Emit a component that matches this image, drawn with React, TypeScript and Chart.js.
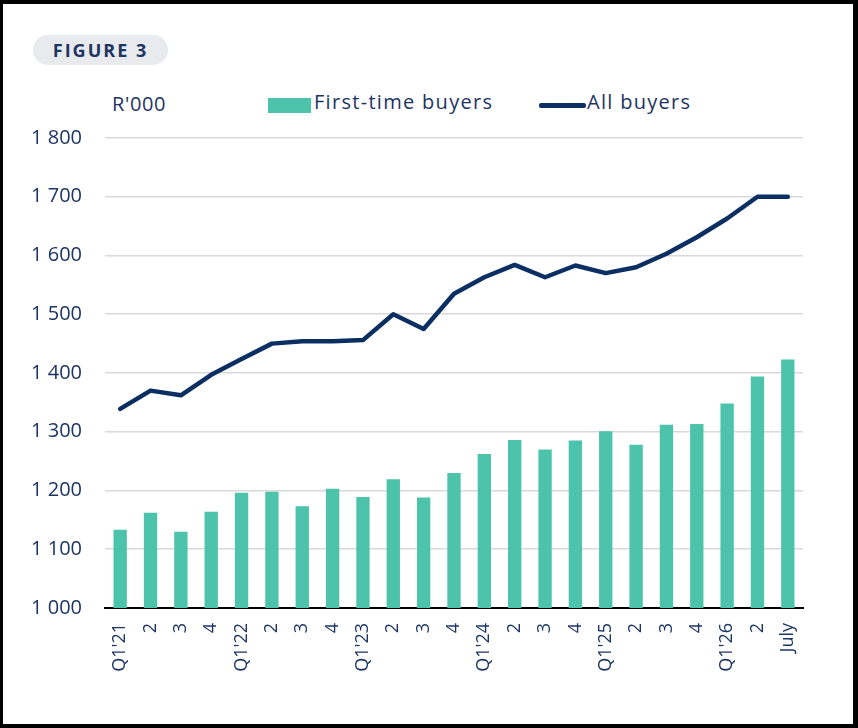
import React, { useEffect, useRef } from 'react';
import Chart from 'chart.js/auto';

// quarters (Q1'21 .. Q2'26) plus the July month
const labels = [
  "Q1'21", '2', '3', '4',
  "Q1'22", '2', '3', '4',
  "Q1'23", '2', '3', '4',
  "Q1'24", '2', '3', '4',
  "Q1'25", '2', '3', '4',
  "Q1'26", '2', 'July',
];

// average purchase price, R'000
const firstTimeBuyers = [
  1133, 1162, 1130, 1164, 1196, 1198, 1173, 1203, 1189, 1219, 1188, 1230,
  1262, 1286, 1270, 1285, 1301, 1278, 1312, 1313, 1348, 1394, 1423,
];
const allBuyers = [
  1339, 1370, 1362, 1397, 1424, 1450, 1454, 1454, 1456, 1500, 1475, 1535,
  1563, 1584, 1563, 1583, 1570, 1580, 1603, 1631, 1663, 1700, 1700,
];

const yTicks = [1000, 1100, 1200, 1300, 1400, 1500, 1600, 1700, 1800];

const NAVY_TEXT = '#1c3563';
const NAVY_LINE = '#0c2f63';
const GREEN = '#4dc3ac';
const FONT = '"Open Sans", Inter, sans-serif';

const formatThousands = (v: number): string =>
  `${Math.floor(v / 1000)} ${String(v % 1000).padStart(3, '0')}`;

const App: React.FC = () => {
  const chartRef = useRef<HTMLCanvasElement>(null);
  const chartInstance = useRef<Chart | null>(null);

  useEffect(() => {
    document.body.style.margin = '0';
  }, []);

  useEffect(() => {
    if (!chartRef.current) return;
    const ctx = chartRef.current.getContext('2d');
    if (!ctx) return;

    chartInstance.current = new Chart(ctx, {
      type: 'bar',
      data: {
        labels,
        datasets: [
          {
            type: 'line',
            label: 'All buyers',
            data: allBuyers,
            borderColor: NAVY_LINE,
            backgroundColor: NAVY_LINE,
            borderWidth: 4.5,
            borderCapStyle: 'round',
            borderJoinStyle: 'round',
            pointRadius: 0,
            tension: 0,
            order: 0,
          },
          {
            type: 'bar',
            label: 'First-time buyers',
            data: firstTimeBuyers,
            backgroundColor: GREEN,
            categoryPercentage: 1,
            barPercentage: 0.44,
            order: 1,
          },
        ],
      },
      options: {
        animation: false,
        responsive: true,
        maintainAspectRatio: false,
        layout: { padding: { top: 18, right: 55, bottom: 0, left: 0 } },
        plugins: {
          legend: { display: false },
          tooltip: { enabled: false },
        },
        scales: {
          x: {
            grid: { display: false, drawTicks: false },
            border: { display: true, color: '#000000', width: 2 },
            ticks: {
              autoSkip: false,
              minRotation: 90,
              maxRotation: 90,
              padding: 15,
              color: NAVY_TEXT,
              font: { family: FONT, size: 18 },
            },
            afterFit: (scale) => {
              scale.height = 112;
            },
          },
          y: {
            min: 1000,
            max: 1800,
            afterBuildTicks: (scale) => {
              scale.ticks = yTicks.map((value) => ({ value }));
            },
            grid: { color: '#d9d9d9', lineWidth: 1.6, drawTicks: false },
            border: { display: false },
            ticks: {
              padding: 23,
              color: NAVY_TEXT,
              font: { family: FONT, size: 20 },
              callback: (value) => formatThousands(Number(value)),
            },
            afterFit: (scale) => {
              scale.width = 105;
            },
          },
        },
      },
    });

    return () => {
      if (chartInstance.current) {
        chartInstance.current.destroy();
        chartInstance.current = null;
      }
    };
  }, []);

  const text: React.CSSProperties = {
    position: 'absolute',
    fontFamily: FONT,
    fontSize: 20,
    lineHeight: '20px',
    color: NAVY_TEXT,
    whiteSpace: 'nowrap',
  };

  return (
    <div style={{ position: 'relative', width: 858, height: 728, background: '#000' }}>
      <div style={{ position: 'absolute', left: 3, top: 4, right: 5, bottom: 4, background: '#fff' }} />

      {/* figure pill */}
      <div
        style={{
          position: 'absolute',
          left: 33,
          top: 35,
          width: 135,
          height: 30,
          borderRadius: 15,
          background: '#e8eaed',
          display: 'flex',
          alignItems: 'center',
          justifyContent: 'center',
          fontFamily: FONT,
          fontWeight: 700,
          fontSize: 18,
          letterSpacing: 2,
          color: NAVY_TEXT,
        }}
      >
        FIGURE 3
      </div>

      <div style={{ ...text, left: 112, top: 94, letterSpacing: 0.6 }}>R'000</div>

      {/* legend */}
      <div style={{ position: 'absolute', left: 268, top: 98, width: 43, height: 15, background: GREEN }} />
      <div style={{ ...text, left: 314, top: 92, letterSpacing: 1.3 }}>First-time buyers</div>
      <div
        style={{
          position: 'absolute',
          left: 539,
          top: 103,
          width: 47,
          height: 4.5,
          borderRadius: 2,
          background: NAVY_LINE,
        }}
      />
      <div style={{ ...text, left: 587, top: 92, letterSpacing: 1.3 }}>All buyers</div>

      <div style={{ position: 'absolute', left: 0, top: 103, width: 858, height: 617 }}>
        <canvas ref={chartRef} />
      </div>
    </div>
  );
};

export default App;
